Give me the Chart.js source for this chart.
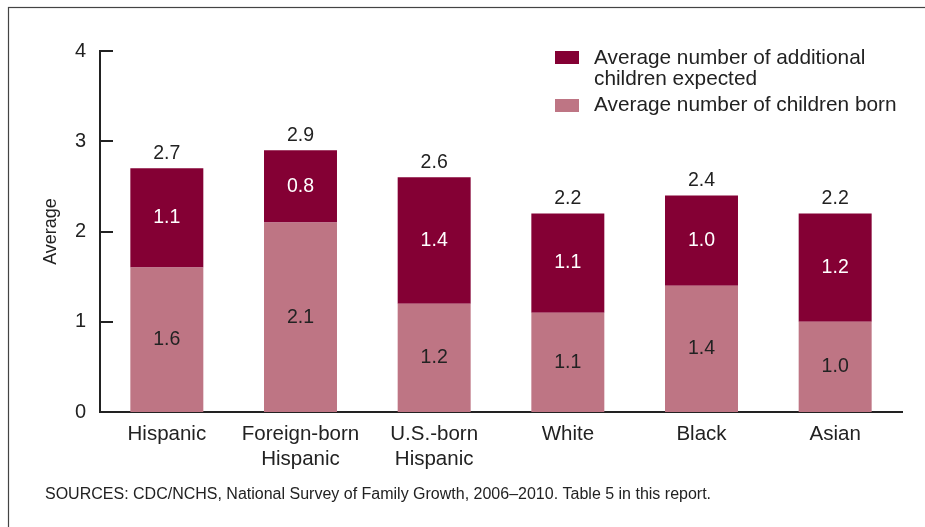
<!DOCTYPE html>
<html><head><meta charset="utf-8">
<script src="https://cdn.jsdelivr.net/npm/chart.js@4/dist/chart.umd.min.js"></script>
<style>html,body{margin:0;padding:0;background:#fff;}#wrap{width:925px;height:527px;position:relative;}</style>
</head><body><div id="wrap"><canvas id="c" width="925" height="527"></canvas></div>
<script>
const categories = [["Hispanic"], ["Foreign-born", "Hispanic"], ["U.S.-born", "Hispanic"], ["White"], ["Black"], ["Asian"]];
const childrenBorn = [1.6, 2.1, 1.2, 1.1, 1.4, 1.0];
const additionalExpected = [1.1, 0.8, 1.4, 1.1, 1.0, 1.2];
const totals = [2.7, 2.9, 2.6, 2.2, 2.4, 2.2];
const yTickValues = [0, 1, 2, 3, 4];
const legendLabels = [["Average number of additional", "children expected"], ["Average number of children born"]];
const yTitle = "Average";
const sourceNote = "SOURCES: CDC/NCHS, National Survey of Family Growth, 2006\u20132010. Table 5 in this report.";

const DARK = "rgb(132,0,52)";
const LIGHT = "rgb(190,117,132)";
const TEXT = "#222";
const FONT = "'Liberation Sans', Arial, sans-serif";

const decor = {
  id: "decor",
  beforeDraw(chart) {
    const ctx = chart.ctx;
    ctx.save();
    ctx.fillStyle = "#fff";
    ctx.fillRect(0, 0, chart.width, chart.height);
    ctx.strokeStyle = "#444";
    ctx.lineWidth = 1.2;
    ctx.strokeRect(8.5, 7.5, 1200, 1200);
    ctx.restore();
  },
  afterDraw(chart) {
    const ctx = chart.ctx;
    const y = chart.scales.y, x = chart.scales.x;
    ctx.save();
    ctx.strokeStyle = TEXT;
    ctx.lineWidth = 2;
    yTickValues.forEach(v => {
      if (v === 0) return;
      const py = Math.round(y.getPixelForValue(v));
      ctx.beginPath();
      ctx.moveTo(x.left, py);
      ctx.lineTo(x.left + 13, py);
      ctx.stroke();
    });
    ctx.textAlign = "center";
    ctx.textBaseline = "middle";
    ctx.font = "19.5px " + FONT;
    const m0 = chart.getDatasetMeta(0);
    categories.forEach((c, i) => {
      const cx = m0.data[i].x;
      const yb = y.getPixelForValue(0);
      const y1 = y.getPixelForValue(childrenBorn[i]);
      const y2 = y.getPixelForValue(childrenBorn[i] + additionalExpected[i]);
      ctx.fillStyle = TEXT;
      ctx.fillText(childrenBorn[i].toFixed(1), cx, (yb + y1) / 2);
      ctx.fillStyle = "#fff";
      ctx.fillText(additionalExpected[i].toFixed(1), cx, (y1 + y2) / 2);
      ctx.fillStyle = TEXT;
      ctx.fillText(totals[i].toFixed(1), cx, y.getPixelForValue(totals[i]) - 15);
    });
    ctx.textAlign = "left";
    ctx.font = "20.8px " + FONT;
    ctx.fillStyle = DARK;
    ctx.fillRect(555, 51, 24, 13);
    ctx.fillStyle = LIGHT;
    ctx.fillRect(555, 99, 24, 13);
    ctx.fillStyle = TEXT;
    ctx.fillText(legendLabels[0][0], 594, 58);
    ctx.fillText(legendLabels[0][1], 594, 79);
    ctx.fillText(legendLabels[1][0], 594, 105);
    ctx.font = "16px 'Liberation Sans Narrow', " + FONT;
    ctx.fillText(sourceNote, 45, 495);
    ctx.restore();
  }
};

new Chart(document.getElementById("c"), {
  type: "bar",
  data: {
    labels: categories,
    datasets: [
      { label: legendLabels[1][0], data: childrenBorn, backgroundColor: LIGHT, stack: "s" },
      { label: legendLabels[0].join(" "), data: additionalExpected, backgroundColor: DARK, stack: "s" }
    ]
  },
  options: {
    responsive: false,
    animation: false,
    devicePixelRatio: 1,
    layout: { padding: { left: 0, right: 23, top: 51, bottom: 0 } },
    datasets: { bar: { categoryPercentage: 1, barPercentage: 0.546 } },
    plugins: { legend: { display: false }, tooltip: { enabled: false } },
    scales: {
      x: {
        stacked: true,
        grid: { display: false, drawTicks: false },
        border: { display: true, color: TEXT, width: 2 },
        ticks: { color: TEXT, font: { family: FONT, size: 20.5, lineHeight: 1.22 }, padding: 10, maxRotation: 0, autoSkip: false },
        afterFit(s) { s.height = 115; }
      },
      y: {
        stacked: true,
        min: 0, max: 4,
        afterBuildTicks(s) { s.ticks = yTickValues.map(v => ({ value: v })); },
        grid: { display: false, drawTicks: false },
        border: { display: true, color: TEXT, width: 2 },
        ticks: { color: TEXT, font: { family: FONT, size: 20 }, padding: 14 },
        title: { display: true, text: yTitle, color: TEXT, font: { family: FONT, size: 18 }, padding: { top: 40, bottom: 0 } },
        afterFit(s) { s.width = 100; }
      }
    }
  },
  plugins: [decor]
});
</script></body></html>
